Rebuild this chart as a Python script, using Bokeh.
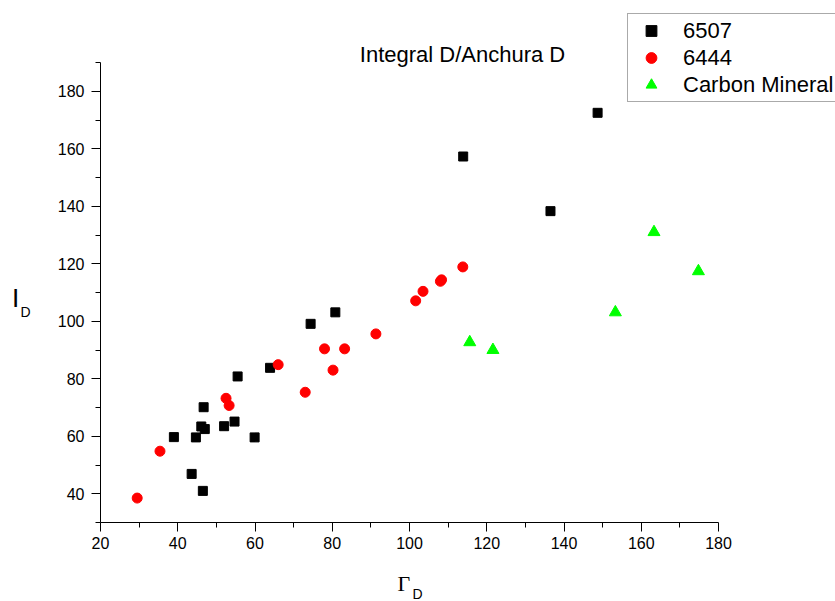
from bokeh.plotting import figure
from bokeh.models import Legend, LegendItem, Label, FixedTicker, Range1d
from bokeh.embed import file_html
from bokeh.resources import INLINE

# ---- data ----
x_6507 = [39.0, 43.6, 44.7, 46.5, 46.1, 47.0, 46.7, 52.0, 54.7, 55.5, 59.9,
          63.9, 74.4, 80.8, 113.9, 136.5, 148.7]
y_6507 = [59.7, 46.9, 59.6, 41.0, 63.4, 62.5, 70.1, 63.5, 65.1, 80.8, 59.6,
          83.8, 99.1, 103.1, 157.3, 138.3, 172.5]

x_6444 = [29.5, 35.4, 52.5, 53.3, 66.0, 73.0, 78.0, 80.2, 83.2, 91.3, 101.6,
          103.5, 108.0, 108.3, 113.8]
y_6444 = [38.5, 54.8, 73.2, 70.7, 84.9, 75.3, 90.4, 83.0, 90.4, 95.6, 107.1,
          110.4, 113.9, 114.4, 118.9]

x_carbon = [115.6, 121.6, 153.3, 163.3, 174.8]
y_carbon = [92.7, 90.0, 103.1, 131.0, 117.4]

series_names = ["6507", "6444", "Carbon Mineral"]
x_major_ticks = [20, 40, 60, 80, 100, 120, 140, 160, 180]
x_minor_ticks = [30, 50, 70, 90, 110, 130, 150, 170]
y_major_ticks = [40, 60, 80, 100, 120, 140, 160, 180]
y_minor_ticks = [30, 50, 70, 90, 110, 130, 150, 170, 190]
x_axis_span = (20, 180)
y_axis_span = (30, 190)
title_text = "Integral D/Anchura D"

FONT = "Liberation Sans"
W, H = 835, 601
# pixel placement of the axis box inside the canvas
AX_LEFT, AX_RIGHT, AX_TOP, AX_BOTTOM = 100, 718, 62, 522

xs = (AX_RIGHT - AX_LEFT) / (x_axis_span[1] - x_axis_span[0])
ys = (AX_BOTTOM - AX_TOP) / (y_axis_span[1] - y_axis_span[0])
x_range = Range1d(x_axis_span[0] - AX_LEFT / xs, x_axis_span[1] + (W - AX_RIGHT) / xs)
y_range = Range1d(y_axis_span[0] - (H - AX_BOTTOM) / ys, y_axis_span[1] + AX_TOP / ys)

p = figure(width=W, height=H, output_backend="svg", toolbar_location=None,
           x_range=x_range, y_range=y_range, min_border=0)
p.background_fill_color = "white"
p.border_fill_color = "white"
p.outline_line_color = None
p.xgrid.visible = False
p.ygrid.visible = False

for ax, maj, mnr, span, loc, stand in ((p.xaxis[0], x_major_ticks, x_minor_ticks, x_axis_span, y_axis_span[0], 5),
                                       (p.yaxis[0], y_major_ticks, y_minor_ticks, y_axis_span, x_axis_span[0], 7)):
    ax.ticker = FixedTicker(ticks=maj, minor_ticks=mnr)
    ax.fixed_location = loc
    ax.bounds = span
    ax.axis_line_color = "black"
    ax.major_tick_line_color = "black"
    ax.minor_tick_line_color = "black"
    ax.major_tick_out = 9
    ax.major_tick_in = 0
    ax.minor_tick_out = 5
    ax.minor_tick_in = 0
    ax.major_label_text_font = FONT
    ax.major_label_text_font_size = "16px"
    ax.major_label_text_color = "black"
    ax.major_label_standoff = stand

r1 = p.scatter(x_6507, y_6507, marker="square", size=9, color="black")
r2 = p.scatter(x_6444, y_6444, marker="circle", size=10, color="#ff0000")
r3 = p.scatter(x_carbon, y_carbon, marker="triangle", size=12, color="#00ff00")

legend = Legend(items=[LegendItem(label=series_names[0], renderers=[r1]),
                       LegendItem(label=series_names[1], renderers=[r2]),
                       LegendItem(label=series_names[2], renderers=[r3])],
                location=(627, 499))
legend.label_text_font = FONT
legend.label_text_font_size = "22px"
legend.label_text_color = "black"
legend.label_height = 27
legend.glyph_height = 27
legend.glyph_width = 40
legend.label_standoff = 12
legend.spacing = 0
legend.padding = 3
legend.margin = 0
legend.border_line_color = "#555555"
legend.border_line_width = 1.5
legend.background_fill_color = "white"
legend.background_fill_alpha = 1
p.add_layout(legend)

# title and axis titles (screen units from the canvas bottom-left)
p.add_layout(Label(x=462, y=H - 54, x_units="screen", y_units="screen",
                   text=title_text, text_font=FONT, text_font_size="22px",
                   text_color="black", text_align="center", text_baseline="alphabetic"))
p.add_layout(Label(x=15, y=H - 297, x_units="screen", y_units="screen",
                   text="I", text_font=FONT, text_font_size="26px",
                   text_color="black", text_align="center", text_baseline="alphabetic"))
p.add_layout(Label(x=20, y=H - 311, x_units="screen", y_units="screen",
                   text="D", text_font=FONT, text_font_size="14px",
                   text_color="black", text_align="left", text_baseline="alphabetic"))
p.add_layout(Label(x=397, y=H - 583, x_units="screen", y_units="screen",
                   text="Γ", text_font="Liberation Serif", text_font_size="22px",
                   text_color="black", text_align="left", text_baseline="alphabetic"))
p.add_layout(Label(x=412, y=H - 593, x_units="screen", y_units="screen",
                   text="D", text_font=FONT, text_font_size="14px",
                   text_color="black", text_align="left", text_baseline="alphabetic"))

open("out.html", "w").write(file_html(p, INLINE))
